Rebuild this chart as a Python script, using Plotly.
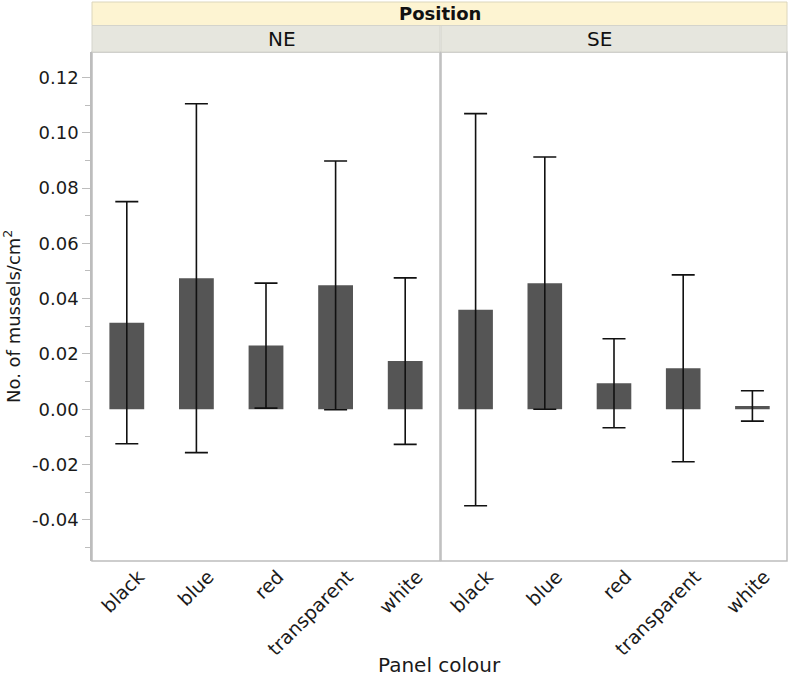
import plotly.graph_objects as go

categories = ["black", "blue", "red", "transparent", "white"]
positions = ["NE", "SE"]
ne_mean = [0.0313, 0.0474, 0.0230, 0.0448, 0.0174]
ne_err = [0.0438, 0.0631, 0.0226, 0.0450, 0.0301]
se_mean = [0.0360, 0.0456, 0.0094, 0.0148, 0.0012]
se_err = [0.0709, 0.0456, 0.0161, 0.0338, 0.0055]
y_ticks = [-0.04, -0.02, 0.00, 0.02, 0.04, 0.06, 0.08, 0.10, 0.12]
y_ticktext = ["%.2f" % v for v in y_ticks]

FONT = "DejaVu Sans"
BAR = "#555555"
FRAME = "#bdbdbd"

fig = go.Figure()
for i, (m, e) in enumerate([(ne_mean, ne_err), (se_mean, se_err)]):
    fig.add_trace(go.Bar(
        x=categories, y=m, width=0.5,
        marker=dict(color=BAR, line=dict(width=0)),
        error_y=dict(type="data", array=e, visible=True, color="#111111",
                     thickness=1.6, width=11.5),
        xaxis="x" if i == 0 else "x2", yaxis="y", showlegend=False,
    ))

d1 = 348 / 695
d2 = 349 / 695
xcommon = dict(type="category", showgrid=False, zeroline=False, ticks="",
               tickangle=-45, showline=False, ticklabelshift=12,
               tickfont=dict(family=FONT, size=19, color="#1a1a1a"))
fig.update_layout(
    width=788, height=677,
    margin=dict(l=92, r=1, t=52, b=116),
    paper_bgcolor="white", plot_bgcolor="white",
    font=dict(family=FONT, color="#1a1a1a"),
    bargap=0.5,
    xaxis=dict(domain=[0, d1], anchor="y", **xcommon),
    xaxis2=dict(domain=[d2, 1], anchor="y", **xcommon),
    yaxis=dict(range=[-0.0549, 0.1292], showgrid=False, zeroline=False,
               tickvals=y_ticks, ticktext=y_ticktext,
               ticks="outside", ticklen=8, tickwidth=1, tickcolor=FRAME,
               showline=True, linecolor=FRAME, linewidth=1.5,
               minor=dict(dtick=0.01, tick0=0, ticks="outside", ticklen=5,
                          tickcolor=FRAME, tickwidth=1),
               tickfont=dict(family=FONT, size=18, color="#1a1a1a")),
)

shapes = []
for (a, b) in [(0, d1), (d2, 1)]:
    shapes.append(dict(type="rect", xref="paper", yref="paper", x0=a, x1=b, y0=0, y1=1,
                       line=dict(color=FRAME, width=1.5), fillcolor="rgba(0,0,0,0)", layer="below"))
y_pos_top = (561 - 2) / 509
y_pos_bot = (561 - 25.5) / 509
shapes.append(dict(type="rect", xref="paper", yref="paper", x0=0, x1=1,
                   y0=y_pos_bot, y1=y_pos_top,
                   line=dict(color="#dcd6bc", width=1), fillcolor="#fdf4d2"))
for (a, b) in [(0, d1), (d2, 1)]:
    shapes.append(dict(type="rect", xref="paper", yref="paper", x0=a, x1=b,
                       y0=1.0, y1=y_pos_bot,
                       line=dict(color="#d4d4cc", width=1), fillcolor="#e6e6de"))
fig.update_layout(shapes=shapes)

anns = []
anns.append(dict(text="<b>Position</b>", xref="paper", yref="paper", x=0.5,
                 y=(y_pos_top + y_pos_bot) / 2, showarrow=False, yanchor="middle",
                 font=dict(family=FONT, size=18, color="#111111")))
for name, (a, b) in zip(positions, [(0, d1), (d2, 1)]):
    anns.append(dict(text=name, xref="paper", yref="paper", x=(a + b) / 2,
                     y=(1 + y_pos_bot) / 2, showarrow=False, yanchor="middle",
                     font=dict(family=FONT, size=20, color="#111111")))
anns.append(dict(text="Panel colour", xref="paper", yref="paper", x=0.5, y=0,
                 yshift=-104, showarrow=False, yanchor="middle",
                 font=dict(family=FONT, size=20, color="#1a1a1a")))
anns.append(dict(text="No. of mussels/cm<sup>2</sup>", xref="paper", yref="paper",
                 x=0, xshift=-80, y=(561 - 317) / 509, textangle=-90,
                 showarrow=False, xanchor="center", yanchor="middle",
                 font=dict(family=FONT, size=18, color="#1a1a1a")))
fig.update_layout(annotations=anns)

fig.write_html("out.html", config={"displayModeBar": False},
               post_script="document.body.style.margin='0';document.body.style.overflow='hidden';")
